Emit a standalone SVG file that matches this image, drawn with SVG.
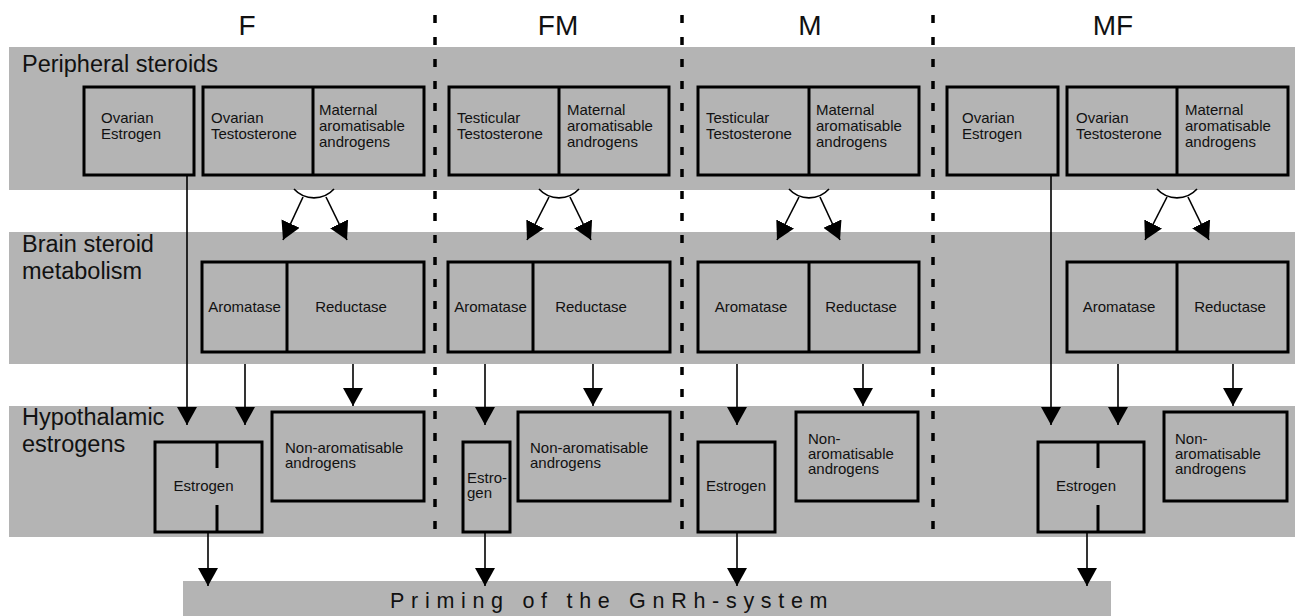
<svg xmlns="http://www.w3.org/2000/svg" width="1295" height="616" viewBox="0 0 1295 616">
<style>
.band{fill:#b4b4b4}
.box{fill:none;stroke:#000;stroke-width:3}
.ln{fill:none;stroke:#000;stroke-width:1.6}
.arr{fill:none;stroke:#000;stroke-width:1.6;marker-end:url(#ah)}
.dash{stroke:#000;stroke-width:3.5;stroke-dasharray:8 14}
text{font-family:"Liberation Sans",Arial,sans-serif;fill:#111}
.title{font-size:28px;text-anchor:middle}
.blab{font-size:23.5px}
.t{font-size:15px}
.tm{font-size:15px;text-anchor:middle}
.prim{font-size:21.5px;letter-spacing:6.7px}
</style>
<defs>
<marker id="ah" markerUnits="userSpaceOnUse" viewBox="0 0 18 20" refX="18" refY="10" markerWidth="18" markerHeight="20" orient="auto">
<path d="M0,0 L18,10 L0,20 z" fill="#000"/>
</marker>
</defs>
<rect width="1295" height="616" fill="#fff"/>
<g id="bands">
<rect class="band" x="9" y="47" width="1286" height="143"/>
<rect class="band" x="9" y="232" width="1286" height="132"/>
<rect class="band" x="9" y="406" width="1286" height="131"/>
<rect class="band" x="183" y="581" width="928" height="35"/>
</g>
<g id="dividers">
<line class="dash" x1="435" y1="15" x2="435" y2="537"/>
<line class="dash" x1="682" y1="15" x2="682" y2="537"/>
<line class="dash" x1="933" y1="15" x2="933" y2="537"/>
</g>
<g id="titles">
<text class="title" x="247" y="35">F</text>
<text class="title" x="558" y="35">FM</text>
<text class="title" x="810" y="35">M</text>
<text class="title" x="1113" y="35">MF</text>
</g>
<g id="band-labels">
<text class="blab" x="22" y="72">Peripheral steroids</text>
<text class="blab" x="22" y="252">Brain steroid</text>
<text class="blab" x="22" y="279">metabolism</text>
<text class="blab" x="22" y="425">Hypothalamic</text>
<text class="blab" x="22" y="452">estrogens</text>
</g>
<g id="connectors">
<path class="ln" d="M294 189 A27 27 0 0 0 334 189"/>
<path class="ln" d="M539 189 A27 27 0 0 0 579 189"/>
<path class="ln" d="M789 189 A27 27 0 0 0 829 189"/>
<path class="ln" d="M1157 189 A27 27 0 0 0 1197 189"/>
<path class="arr" d="M303 197 L283 240"/>
<path class="arr" d="M326 197 L347 240"/>
<path class="arr" d="M549 197 L527 240"/>
<path class="arr" d="M570 197 L591 240"/>
<path class="arr" d="M799 197 L777 240"/>
<path class="arr" d="M820 197 L840 240"/>
<path class="arr" d="M1167 197 L1145 240"/>
<path class="arr" d="M1188 197 L1209 240"/>
<path class="arr" d="M187 175 L187 425"/>
<path class="arr" d="M245 364 L245 425"/>
<path class="arr" d="M353 364 L353 406"/>
<path class="arr" d="M485 364 L485 425"/>
<path class="arr" d="M593 364 L593 406"/>
<path class="arr" d="M737 364 L737 425"/>
<path class="arr" d="M863 364 L863 406"/>
<path class="arr" d="M1051 175 L1051 425"/>
<path class="arr" d="M1118 364 L1118 425"/>
<path class="arr" d="M1233 364 L1233 406"/>
<path class="arr" d="M208 532 L208 586"/>
<path class="arr" d="M485 532 L485 586"/>
<path class="arr" d="M737 532 L737 586"/>
<path class="arr" d="M1087 532 L1087 586"/>
</g>
<g id="F-ovarian-estrogen">
<rect class="box" x="84" y="87" width="110" height="88"/>
<text class="t" x="101" y="123">Ovarian</text>
<text class="t" x="101" y="139">Estrogen</text>
</g>
<g id="F-testosterone-maternal">
<rect class="box" x="203" y="87" width="221" height="88"/>
<line class="box" x1="313" y1="87" x2="313" y2="175"/>
<text class="t" x="211" y="123">Ovarian</text>
<text class="t" x="211" y="139">Testosterone</text>
<text class="t" x="319" y="115">Maternal</text>
<text class="t" x="319" y="131">aromatisable</text>
<text class="t" x="319" y="147">androgens</text>
</g>
<g id="FM-testosterone-maternal">
<rect class="box" x="449" y="87" width="220" height="88"/>
<line class="box" x1="559" y1="87" x2="559" y2="175"/>
<text class="t" x="457" y="123">Testicular</text>
<text class="t" x="457" y="139">Testosterone</text>
<text class="t" x="567" y="115">Maternal</text>
<text class="t" x="567" y="131">aromatisable</text>
<text class="t" x="567" y="147">androgens</text>
</g>
<g id="M-testosterone-maternal">
<rect class="box" x="698" y="87" width="221" height="88"/>
<line class="box" x1="809" y1="87" x2="809" y2="175"/>
<text class="t" x="706" y="123">Testicular</text>
<text class="t" x="706" y="139">Testosterone</text>
<text class="t" x="816" y="115">Maternal</text>
<text class="t" x="816" y="131">aromatisable</text>
<text class="t" x="816" y="147">androgens</text>
</g>
<g id="MF-ovarian-estrogen">
<rect class="box" x="947" y="87" width="111" height="88"/>
<text class="t" x="962" y="123">Ovarian</text>
<text class="t" x="962" y="139">Estrogen</text>
</g>
<g id="MF-testosterone-maternal">
<rect class="box" x="1067" y="87" width="221" height="88"/>
<line class="box" x1="1177" y1="87" x2="1177" y2="175"/>
<text class="t" x="1076" y="123">Ovarian</text>
<text class="t" x="1076" y="139">Testosterone</text>
<text class="t" x="1185" y="115">Maternal</text>
<text class="t" x="1185" y="131">aromatisable</text>
<text class="t" x="1185" y="147">androgens</text>
</g>
<g id="F-enzymes">
<rect class="box" x="202" y="262" width="222" height="90"/>
<line class="box" x1="287" y1="262" x2="287" y2="352"/>
<text class="tm" x="244.5" y="312">Aromatase</text>
<text class="tm" x="351" y="312">Reductase</text>
</g>
<g id="FM-enzymes">
<rect class="box" x="448" y="262" width="222" height="90"/>
<line class="box" x1="533" y1="262" x2="533" y2="352"/>
<text class="tm" x="490.5" y="312">Aromatase</text>
<text class="tm" x="591" y="312">Reductase</text>
</g>
<g id="M-enzymes">
<rect class="box" x="698" y="262" width="221" height="90"/>
<line class="box" x1="809" y1="262" x2="809" y2="352"/>
<text class="tm" x="751" y="312">Aromatase</text>
<text class="tm" x="861" y="312">Reductase</text>
</g>
<g id="MF-enzymes">
<rect class="box" x="1067" y="262" width="221" height="90"/>
<line class="box" x1="1177" y1="262" x2="1177" y2="352"/>
<text class="tm" x="1119" y="312">Aromatase</text>
<text class="tm" x="1230" y="312">Reductase</text>
</g>
<g id="F-estrogen">
<rect class="box" x="155" y="442" width="107" height="90"/>
<line class="box" x1="217" y1="442" x2="217" y2="468"/>
<line class="box" x1="217" y1="505" x2="217" y2="532"/>
<text class="tm" x="203.5" y="491">Estrogen</text>
</g>
<g id="F-nonarom">
<rect class="box" x="272" y="412" width="152" height="89"/>
<text class="t" x="285" y="453">Non-aromatisable</text>
<text class="t" x="285" y="468">androgens</text>
</g>
<g id="FM-estrogen">
<rect class="box" x="463" y="442" width="47" height="90"/>
<text class="t" x="467" y="483">Estro-</text>
<text class="t" x="467" y="498">gen</text>
</g>
<g id="FM-nonarom">
<rect class="box" x="518" y="412" width="152" height="89"/>
<text class="t" x="530" y="453">Non-aromatisable</text>
<text class="t" x="530" y="468">androgens</text>
</g>
<g id="M-estrogen">
<rect class="box" x="698" y="442" width="77" height="90"/>
<text class="tm" x="736" y="491">Estrogen</text>
</g>
<g id="M-nonarom">
<rect class="box" x="796" y="412" width="122" height="89"/>
<text class="t" x="808" y="444">Non-</text>
<text class="t" x="808" y="459">aromatisable</text>
<text class="t" x="808" y="474">androgens</text>
</g>
<g id="MF-estrogen">
<rect class="box" x="1038" y="442" width="106" height="90"/>
<line class="box" x1="1098" y1="442" x2="1098" y2="468"/>
<line class="box" x1="1098" y1="505" x2="1098" y2="532"/>
<text class="tm" x="1086" y="491">Estrogen</text>
</g>
<g id="MF-nonarom">
<rect class="box" x="1164" y="412" width="123" height="89"/>
<text class="t" x="1175" y="444">Non-</text>
<text class="t" x="1175" y="459">aromatisable</text>
<text class="t" x="1175" y="474">androgens</text>
</g>
<g id="priming">
<text class="prim" x="390" y="608">Priming of the GnRh-system</text>
</g>
</svg>
